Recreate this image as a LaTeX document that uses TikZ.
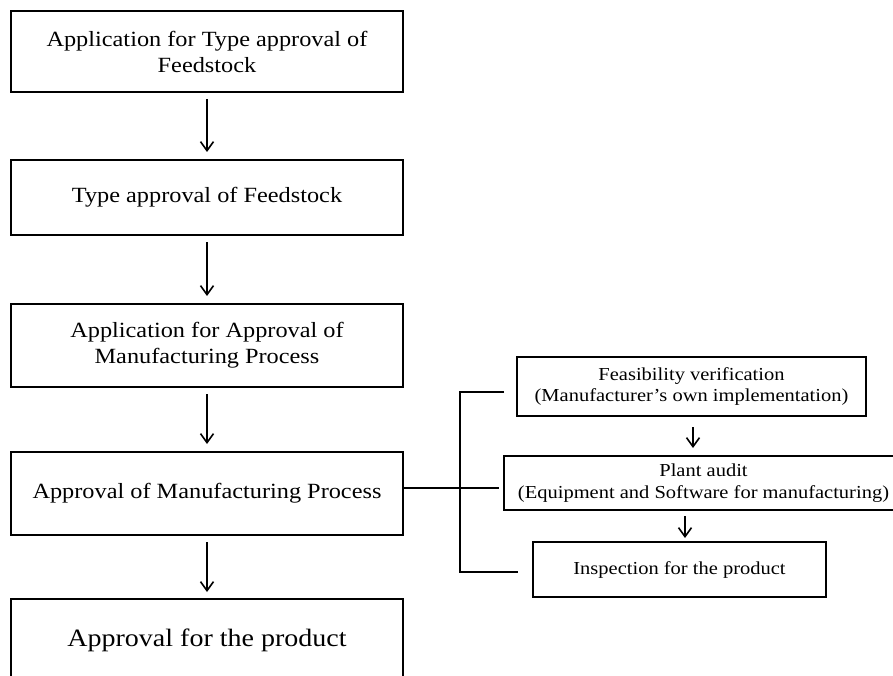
\documentclass[tikz,border=0pt]{standalone}
\usepackage{fontspec}
\setmainfont[FakeStretch=1.12]{Liberation Serif}
\usetikzlibrary{arrows.meta}
\begin{document}
\begin{tikzpicture}[x=1pt,y=-1pt,
  mainbox/.style={draw, line width=2pt, rectangle, inner sep=0pt, align=center,
    minimum width=392pt, font=\fontsize{21.7}{26}\selectfont},
  bigbox/.style={mainbox, font=\fontsize{25}{30}\selectfont},
  subbox/.style={draw, line width=2pt, rectangle, inner sep=0pt, align=center,
    font=\fontsize{18.3}{21.5}\selectfont},
  arr/.style={line width=1.6pt, -{Straight Barb[length=9pt,width=13pt,line width=1.6pt]}},
  conn/.style={line width=1.6pt}]
\useasboundingbox (0,0) rectangle (893,676);
\fill[white] (0,0) rectangle (893,676);

\node[mainbox, minimum height=81pt] (b1) at (207,51.5) {Application for Type approval of\\Feedstock};
\node[mainbox, minimum height=75pt] (b2) at (207,197.5) {Type approval of Feedstock};
\node[mainbox, minimum height=83pt] (b3) at (207,345.5) {Application for Approval of\\Manufacturing Process};
\node[mainbox, minimum height=83pt] (b4) at (207,493.5) {Approval of Manufacturing Process};
\node[bigbox, minimum height=82pt] (b5) at (207,640) {Approval for the product};

\draw[arr, shorten <=6pt, shorten >=7pt] (b1) -- (b2);
\draw[arr, shorten <=6pt, shorten >=7pt] (b2) -- (b3);
\draw[arr, shorten <=6pt, shorten >=7pt] (b3) -- (b4);
\draw[arr, shorten <=6pt, shorten >=6pt] (b4) -- (b5);

\node[subbox, minimum width=349pt, minimum height=59pt] (sa) at (691.5,386.5) {Feasibility verification\\(Manufacturer's own implementation)};
\node[subbox, minimum width=399pt, minimum height=54pt] (sb) at (703.5,483) {Plant audit\\(Equipment and Software for manufacturing)};
\node[subbox, minimum width=293pt, minimum height=55pt] (sc) at (679.5,569.5) {Inspection for the product};

\draw[arr, shorten <=10pt, shorten >=7pt] ([xshift=1.5pt]sa.south) -- ([xshift=1.5pt]sa.south |- sb.north);
\draw[arr, shorten <=5pt, shorten >=3pt] ([xshift=5.5pt]sc.north |- sb.south) -- ([xshift=5.5pt]sc.north);

\coordinate (vx) at (460,0);
\coordinate (ta) at (504,392);
\coordinate (tb) at (499,488);
\coordinate (tc) at (518,572);
\draw[conn] ([yshift=5.5pt]b4.east) -- (tb);
\draw[conn] (ta) -- (vx |- ta) -- (vx |- tc) -- (tc);
\end{tikzpicture}
\end{document}
